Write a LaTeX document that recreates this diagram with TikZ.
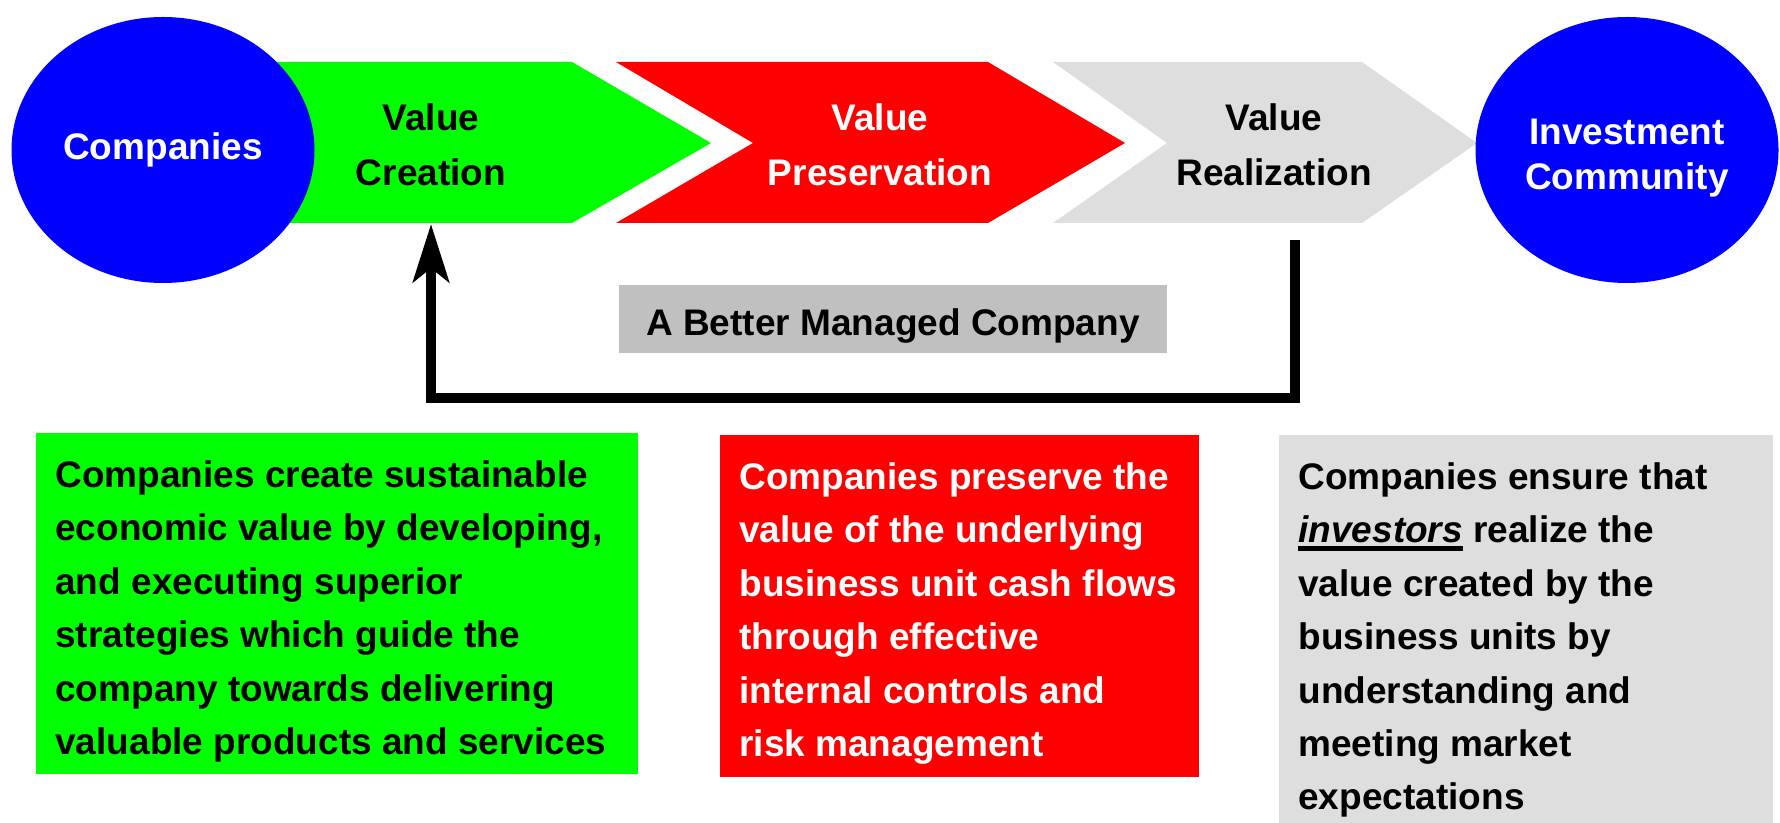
\documentclass[tikz,border=0pt]{standalone}
\usepackage{fontspec}
\setmainfont{Liberation Sans}
\usepackage{tikz}
\usetikzlibrary{shapes.geometric,arrows.meta,positioning}
\definecolor{vgreen}{RGB}{0,255,0}
\definecolor{vred}{RGB}{255,0,0}
\definecolor{vgray}{RGB}{222,222,222}
\definecolor{bargray}{RGB}{192,192,192}
\definecolor{vblue}{RGB}{0,0,255}
\newcommand{\ulword}[1]{\setbox0\hbox{#1}\rlap{\rule[-3.9pt]{\wd0}{2.5pt}}\box0\relax}
\tikzset{
  party/.style={ellipse,fill=vblue,minimum width=151.5pt,
    minimum height=133pt},
  partylabel/.style={align=center,inner sep=0pt,text=white,
    font=\fontsize{18.5}{22.5}\selectfont\bfseries},
  stagelabel/.style={align=center,inner sep=0pt,
    font=\fontsize{18.5}{27.5}\selectfont\bfseries},
  descbox/.style={rectangle,inner sep=0pt,anchor=north west},
  desctext/.style={align=left,inner sep=0pt,
    font=\fontsize{18.5}{26.7}\selectfont\bfseries},
  fback/.style={line width=5pt,-{Stealth[length=29pt,width=18pt,inset=7pt]}}
}

\begin{document}
\begin{tikzpicture}[x=0.5pt,y=-0.5pt]
  \useasboundingbox (0,0) rectangle (1780,823);

  % Chevrons: left / notch / body end / tip
  \foreach \xl/\xn/\xb/\xt/\col in {163/163/572/711/vgreen,
      616/753/988/1125/vred,1053/1167/1362/1477/vgray}
    \fill[\col] (\xl,62) -- (\xb,62) -- (\xt,143) -- (\xb,223)
      -- (\xl,223) -- (\xn,143) -- cycle;

  % End points
  \node[party] (comp) at (163,150) {};
  \node[partylabel] (comptext) at (comp.center) {Companies};
  \node[party] (inv) at (1627,150) {};
  \node[partylabel] (invtext) at ([yshift=-4pt]inv.center)
    {Investment\\Community};

  % Stage labels
  \node[stagelabel] (vc) at (431,145) {Value\\Creation};
  \node[stagelabel,text=white] (vp) at (880,145) {Value\\Preservation};
  \node[stagelabel] (vr) at (1274,145) {Value\\Realization};

  % Feedback loop
  \node[rectangle,fill=bargray,minimum width=274pt,minimum height=34pt,
    text height=20.5pt,text depth=3.9pt,
    font=\fontsize{18.5}{22}\selectfont\bfseries] (better) at (893,319)
    {A Better Managed Company};
  \coordinate (fbout) at (1295,240);
  \coordinate (fbin) at (431,224);
  \draw[fback] (fbout) -- ++(0,157.5) -| (fbin);

  % Description boxes
  \node[descbox,fill=vgreen,minimum width=301pt,minimum height=170.5pt]
    (cbox) at (36,433) {};
  \node[desctext,below right=13.6pt and 9.5pt of cbox.north west] (ctext)
    {Companies create sustainable\\economic value by developing,\\
     and executing superior\\strategies which guide the\\
     company towards delivering\\valuable products and services};

  \node[descbox,fill=vred,minimum width=239.5pt,minimum height=170.75pt]
    (pbox) at (720,435) {};
  \node[desctext,text=white,below right=13.6pt and 9.5pt of pbox.north west]
    (ptext)
    {Companies preserve the\\value of the underlying\\
     business unit cash flows\\through effective\\
     internal controls and\\risk management};

  \node[descbox,fill=vgray,minimum width=247pt,minimum height=194pt]
    (rbox) at (1279,435) {};
  \node[desctext,below right=13.6pt and 9.5pt of rbox.north west] (rtext)
    {Companies ensure that\\\ulword{\textit{investors}} realize the\\
     value created by the\\business units by\\
     understanding and\\meeting market\\expectations};
\end{tikzpicture}
\end{document}
